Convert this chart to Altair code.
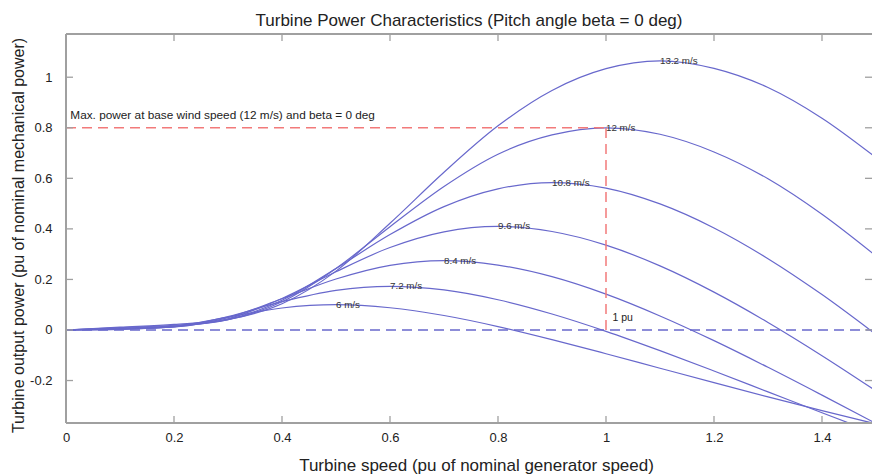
import altair as alt
import pandas as pd

# ---------------- data ----------------
omega = [0.0, 0.1, 0.2, 0.3, 0.4, 0.5, 0.6, 0.7, 0.8, 0.9, 1.0, 1.1, 1.2, 1.3, 1.4, 1.5]
speeds = ["6 m/s", "7.2 m/s", "8.4 m/s", "9.6 m/s", "10.8 m/s", "12 m/s", "13.2 m/s"]

p_6 = [0, 0.0024, 0.0140, 0.0511, 0.0869, 0.1000, 0.0880, 0.0572, 0.0135, -0.0382,
       -0.0939, -0.1513, -0.2084, -0.2645, -0.3189, -0.3718]
p_72 = [0, 0.0033, 0.0124, 0.0526, 0.1119, 0.1567, 0.1728, 0.1584, 0.1196, 0.0632,
        -0.0053, -0.0817, -0.1623, -0.2448, -0.3273, -0.4091]
p_84 = [0, 0.0045, 0.0120, 0.0491, 0.1237, 0.2018, 0.2559, 0.2744, 0.2569, 0.2109,
        0.1418, 0.0555, -0.0422, -0.1477, -0.2578, -0.3700]
p_96 = [0, 0.0059, 0.0131, 0.0444, 0.1247, 0.2307, 0.3261, 0.3881, 0.4096, 0.3895,
        0.3356, 0.2536, 0.1498, 0.0299, -0.1015, -0.2409]
p_108 = [0, 0.0074, 0.0159, 0.0413, 0.1179, 0.2434, 0.3775, 0.4881, 0.5582, 0.5833,
         0.5613, 0.4987, 0.4036, 0.2821, 0.1400, -0.0179]
p_12 = [0, 0.0092, 0.0188, 0.0405, 0.1117, 0.2436, 0.4088, 0.5678, 0.6955, 0.7718,
        0.8000, 0.7743, 0.7044, 0.5980, 0.4576, 0.2926]
p_132 = [0, 0.0111, 0.0222, 0.0417, 0.1038, 0.2329, 0.4224, 0.6242, 0.8077, 0.9477,
         1.0338, 1.0649, 1.0353, 0.9596, 0.8381, 0.6820]
series = [p_6, p_72, p_84, p_96, p_108, p_12, p_132]

# curve labels placed at each curve's peak
label_x = [0.5, 0.6, 0.7, 0.8, 0.9, 1.0, 1.1]
label_y = [0.100, 0.173, 0.274, 0.410, 0.583, 0.800, 1.065]

x_tick_vals = [0, 0.2, 0.4, 0.6, 0.8, 1.0, 1.2, 1.4]
y_tick_vals = [-0.2, 0, 0.2, 0.4, 0.6, 0.8, 1.0]

# reference lines
red_x = [0.0, 1.0]
red_x2 = [1.0, 1.0]
red_y = [0.8, 0.0]
red_y2 = [0.8, 0.8]

# ---------------- build tables ----------------
rows = []
for s, vals in zip(speeds, series):
    for w, p in zip(omega, vals):
        rows.append({"speed": s, "omega": w, "power": p})
df = pd.DataFrame(rows)
labels_df = pd.DataFrame({"omega": label_x, "power": label_y, "text": speeds})
red_df = pd.DataFrame({"omega": red_x, "x2": red_x2, "power": red_y, "y2": red_y2})
zero_df = pd.DataFrame({"omega": [0.0], "x2": [1.5], "power": [0.0]})
xt_df = pd.DataFrame({"omega": [v for v in x_tick_vals if v > 0]})
yt_df = pd.DataFrame({"power": y_tick_vals})
max_df = pd.DataFrame({"omega": [0.008], "power": [0.85],
                       "text": ["Max. power at base wind speed (12 m/s) and beta = 0 deg"]})
pu_df = pd.DataFrame({"omega": [1.012], "power": [0.047], "text": ["1 pu"]})

W, H = 806, 389
FONT = "Liberation Sans"
CURVE = "#6868cc"
RED = "#f27a7a"
FRAME = "#a0a0a0"
TXT = "#222222"

xs = alt.Scale(domain=[0, 1.4926], nice=False, zero=False)
ys = alt.Scale(domain=[-0.368, 1.171], nice=False, zero=False)

x_axis = alt.Axis(values=x_tick_vals, format=".1~f", ticks=False, domain=False, grid=False,
                  labelFlush=False, labelFontSize=13, labelPadding=8, labelFont=FONT,
                  labelColor=TXT, title="Turbine speed (pu of nominal generator speed)",
                  titleFont=FONT, titleFontSize=17, titleFontWeight="normal", titleColor=TXT,
                  titleX=410, titleY=42, titleBaseline="middle")
y_axis = alt.Axis(values=y_tick_vals, ticks=False, domain=False, grid=False,
                  labelExpr="datum.value == 0 ? '0' : (datum.value < 0 ? '-' + format(-datum.value, '.1f') : format(datum.value, '.1~f'))",
                  labelFontSize=13, labelPadding=14, labelFont=FONT, labelColor=TXT,
                  title="Turbine output power (pu of nominal mechanical power)",
                  titleFont=FONT, titleFontSize=16, titleFontWeight="normal", titleColor=TXT,
                  titleX=-48, titleY=201, titleBaseline="middle")


def X(field="omega"):
    return alt.X(f"{field}:Q", scale=xs, axis=x_axis)


def Y(field="power"):
    return alt.Y(f"{field}:Q", scale=ys, axis=y_axis)


curves = alt.Chart(df).mark_line(interpolate="monotone", clip=True, strokeWidth=1.2, color=CURVE).encode(
    x=X(), y=Y(), detail="speed:N",
)

zero_line = alt.Chart(zero_df).mark_rule(clip=True, strokeDash=[10, 6], strokeWidth=1.3, color=CURVE).encode(
    x=X(), x2="x2:Q", y=Y()
)

red_lines = alt.Chart(red_df).mark_rule(strokeDash=[10, 6], strokeWidth=1.5, color=RED).encode(
    x=X(), x2="x2:Q", y=Y(), y2="y2:Q"
)

curve_labels = alt.Chart(labels_df).mark_text(align="left", baseline="middle", fontSize=9.8,
                                              font=FONT, color="#333333").encode(
    x=X(), y=Y(), text="text:N"
)

max_note = alt.Chart(max_df).mark_text(align="left", baseline="middle", fontSize=11.8,
                                       font=FONT, color=TXT).encode(
    x=X(), y=Y(), text="text:N"
)
pu_note = alt.Chart(pu_df).mark_text(align="left", baseline="middle", fontSize=10.5,
                                     font=FONT, color=TXT).encode(
    x=X(), y=Y(), text="text:N"
)

# frame (left, top, bottom) and inward ticks
frame_left = alt.Chart(zero_df).mark_rule(color=FRAME, strokeWidth=2).encode(
    x=alt.value(0), y=alt.value(0), y2=alt.value(H))
frame_top = alt.Chart(zero_df).mark_rule(color=FRAME, strokeWidth=2).encode(
    x=alt.value(0), x2=alt.value(W), y=alt.value(0))
frame_bottom = alt.Chart(zero_df).mark_rule(color=FRAME, strokeWidth=2).encode(
    x=alt.value(0), x2=alt.value(W), y=alt.value(H))

tick_top = alt.Chart(xt_df).mark_rule(color=FRAME, strokeWidth=1.3).encode(
    x=X(), y=alt.value(0), y2=alt.value(7))
tick_bottom = alt.Chart(xt_df).mark_rule(color=FRAME, strokeWidth=1.3).encode(
    x=X(), y=alt.value(H - 7), y2=alt.value(H))
tick_left = alt.Chart(yt_df).mark_rule(color=FRAME, strokeWidth=1.3).encode(
    y=Y(), x=alt.value(0), x2=alt.value(7))
tick_right = alt.Chart(yt_df).mark_rule(color=FRAME, strokeWidth=1.3).encode(
    y=Y(), x=alt.value(W - 7), x2=alt.value(W))

chart = alt.layer(
    curves, zero_line, red_lines, curve_labels, max_note, pu_note,
    frame_left, frame_top, frame_bottom, tick_top, tick_bottom, tick_left, tick_right
).properties(
    width=W, height=H,
    title=alt.TitleParams(text="Turbine Power Characteristics (Pitch angle beta = 0 deg)",
                          font=FONT, fontSize=17, fontWeight="normal", color=TXT,
                          anchor="middle", offset=3),
    autosize=alt.AutoSizeParams(type="none"),
    padding={"left": 66, "top": 34, "right": 0, "bottom": 52},
    background="white",
).configure_view(stroke=None)

chart.save("out.html", embed_options={"renderer": "svg", "actions": False})
